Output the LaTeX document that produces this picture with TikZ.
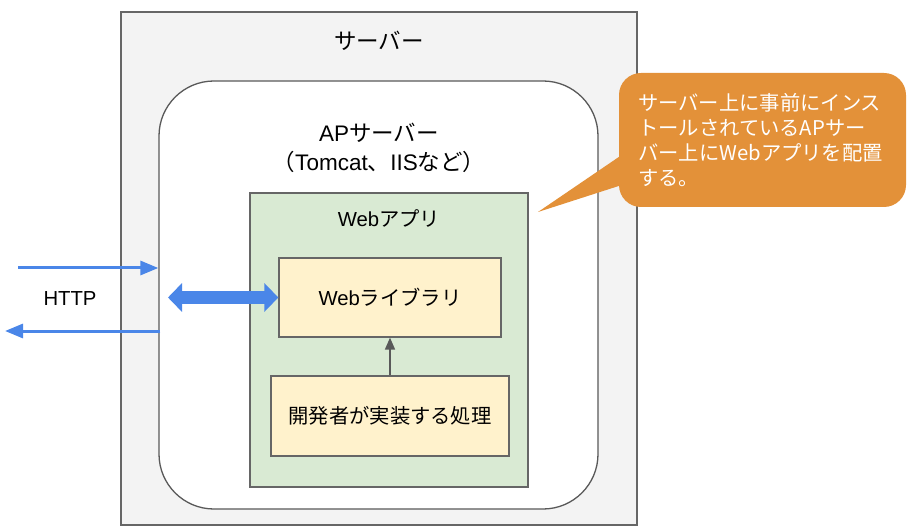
\documentclass[tikz,border=0pt]{standalone}
\usepackage{fontspec}
\setmainfont{Liberation Sans}
\newfontfamily\jp{Noto Sans CJK JP}
\usetikzlibrary{arrows.meta}
\definecolor{srvfill}{HTML}{F3F3F3}
\definecolor{edge}{HTML}{666666}
\definecolor{appfill}{HTML}{D9EAD3}
\definecolor{libfill}{HTML}{FFF2CC}
\definecolor{callout}{HTML}{E39139}
\definecolor{arrowblue}{HTML}{4A86E8}
\definecolor{darkedge}{HTML}{595959}
\tikzset{
  boxshape/.style={draw=edge, line width=1.3pt, inner sep=0pt},
  lbl/.style={inner sep=0pt, text=black},
  biglbl/.style={inner sep=0pt, text=black, font=\fontsize{22.5}{29}\selectfont},
  thinarrow/.style={draw=arrowblue, line width=3pt, -{Triangle[length=18pt,width=14pt]}},
  dblarrow/.style={draw=arrowblue, line width=13pt, {Triangle[length=14pt,width=28pt]}-{Triangle[length=14pt,width=28pt]}},
  grayarrow/.style={draw=darkedge, line width=1.7pt, -{Triangle[length=12pt,width=10pt]}}
}
\begin{document}
\begin{tikzpicture}[x=1pt,y=-1pt,font=\fontsize{20.3}{25}\selectfont]
\useasboundingbox (0,0) rectangle (910,529);
% server
\node[boxshape, fill=srvfill, minimum width=516pt, minimum height=513pt] (srv) at (379,268.5) {};
\node[biglbl] (srvlbl) at (379,41) {\jp サーバー};
% AP server
\node[boxshape, draw=darkedge, fill=white, rounded corners=55pt, minimum width=439pt, minimum height=428pt] (aps) at (378.5,295) {};
\node[biglbl, align=center] (apslbl) at (379,148) {AP{\jp サーバー}\\{\jp （}Tomcat{\jp 、}IIS{\jp など）}};
% Web app
\node[boxshape, fill=appfill, minimum width=278pt, minimum height=294pt] (app) at (389,340) {};
\node[lbl] (applbl) at (389,218) {Web{\jp アプリ}};
% library
\node[boxshape, fill=libfill, minimum width=222pt, minimum height=79pt] (lib) at (390,297.5) {Web{\jp ライブラリ}};
% developer code
\node[boxshape, fill=libfill, minimum width=238pt, minimum height=80pt] (dev) at (390,416) {\jp 開発者が実装する処理};
\draw[grayarrow] (dev.north) -- (lib.south);
% HTTP
\node[lbl] (http) at (70,299) {HTTP};
\coordinate (inStart) at (18,268);
\coordinate (outEnd) at (5,331);
\coordinate (dblStart) at (168,297.5);
\draw[thinarrow] (inStart) -- (inStart -| aps.west);
\draw[thinarrow] (outEnd -| aps.west) ++(2,0) -- (outEnd);
\draw[dblarrow] (dblStart) -- (lib.west);
% callout
\coordinate (tip) at (538,212);
\node[fill=callout, rounded corners=22pt, minimum width=287pt, minimum height=134pt, inner sep=0pt] (note) at (762.5,140) {};
\fill[callout] (tip) -- ([yshift=-17pt]note.west) -- ([yshift=-45pt,xshift=3pt]note.west) -- cycle;
\node[inner sep=0pt, anchor=west, align=left, text=white, font=\jp\fontsize{20.3}{25}\selectfont] (notetext) at (638,140) {サーバー上に事前にインス\\トールされているAPサー\\バー上にWebアプリを配置\\する。};
\end{tikzpicture}
\end{document}
